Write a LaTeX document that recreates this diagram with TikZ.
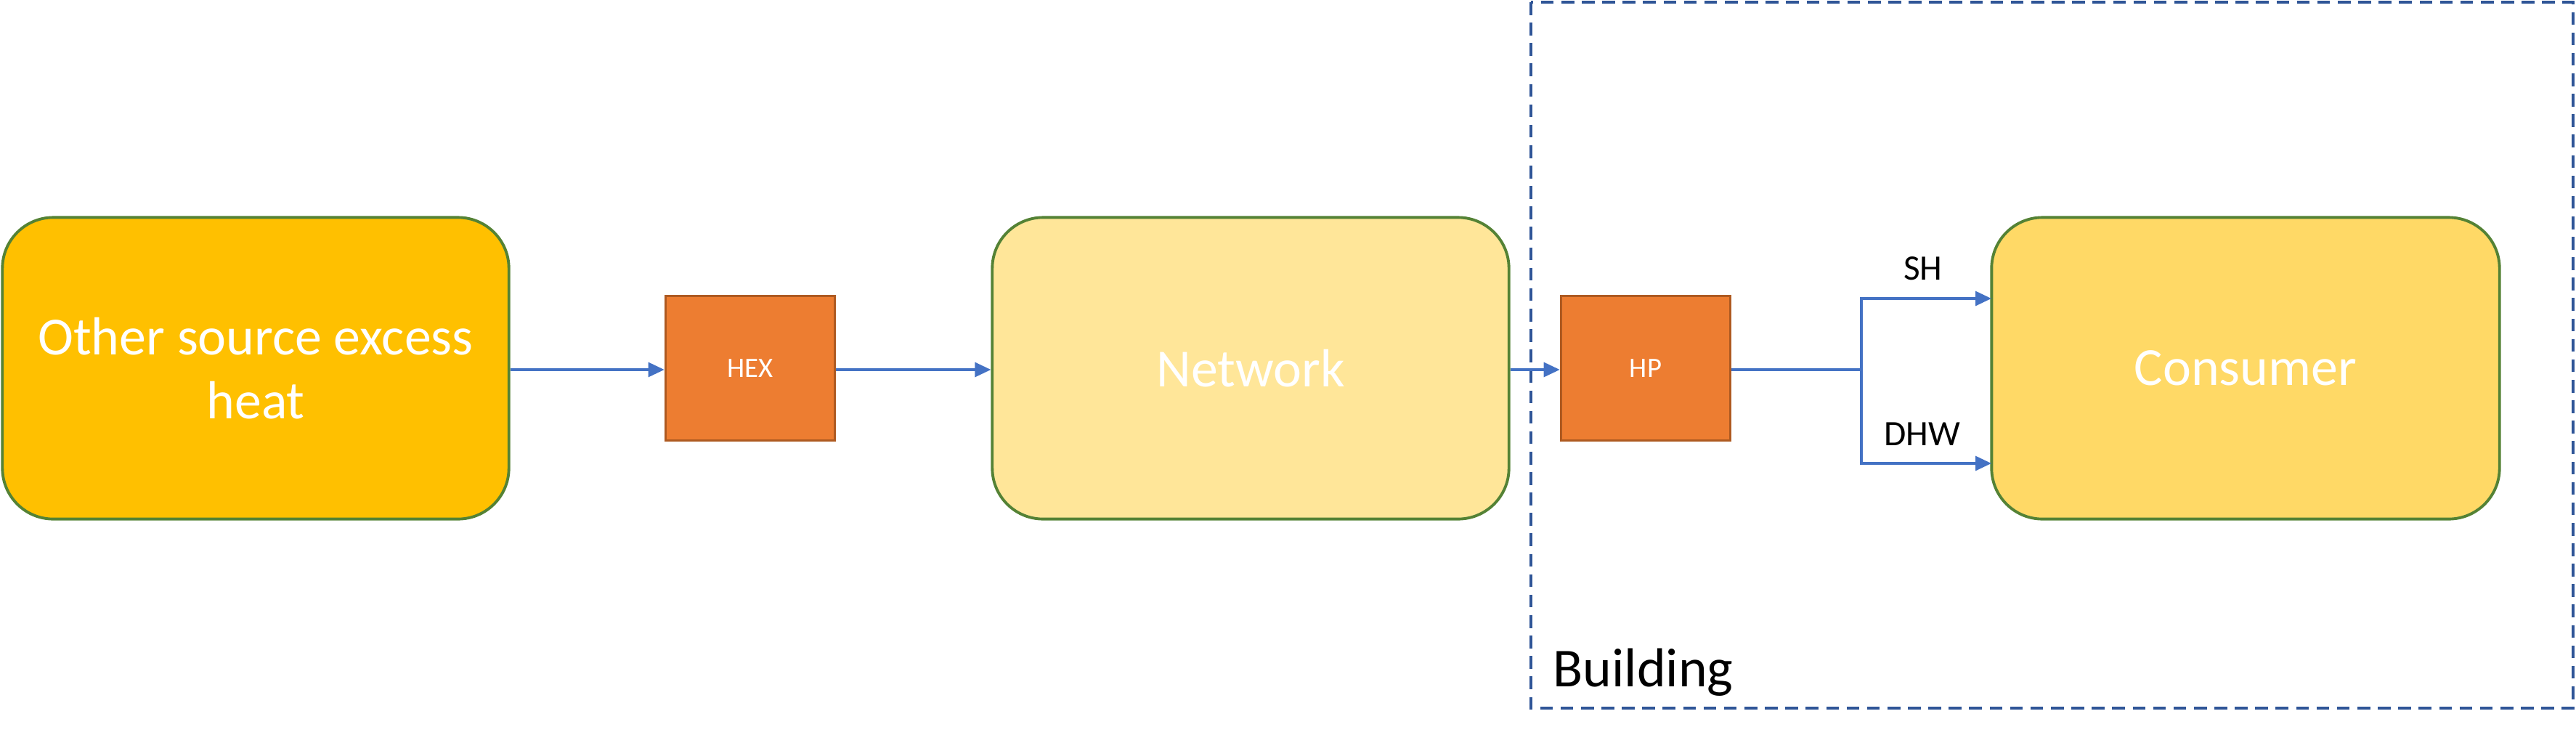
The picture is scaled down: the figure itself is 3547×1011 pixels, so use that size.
\documentclass[tikz,border=0pt]{standalone}
\usepackage{fontspec}
\setmainfont{Carlito}
\usetikzlibrary{arrows.meta,calc}
\definecolor{srcfill}{HTML}{FFC000}
\definecolor{netfill}{HTML}{FFE699}
\definecolor{consfill}{HTML}{FFD966}
\definecolor{boxgreen}{HTML}{548235}
\definecolor{orangefill}{HTML}{ED7D31}
\definecolor{orangedraw}{HTML}{AE5A21}
\definecolor{arrblue}{HTML}{4472C4}
\definecolor{dashblue}{HTML}{2F5597}
\tikzset{
  bigbox/.style={draw=boxgreen, line width=1.1pt, rounded corners=0.7cm, minimum width=6.97cm, minimum height=4.15cm, text=white, font=\fontsize{21}{25}\selectfont, align=center, inner sep=0pt},
  unitbox/.style={draw=orangedraw, fill=orangefill, line width=1pt, minimum width=2.33cm, minimum height=1.99cm, text=white, font=\fontsize{11}{13}\selectfont, inner sep=0pt},
  flow/.style={draw=arrblue, line width=0.9pt, -{Triangle[length=0.22cm, width=0.2cm]}},
  flowline/.style={draw=arrblue, line width=1.3pt},
  lbl/.style={font=\fontsize{14}{16}\selectfont, text=black, inner sep=0pt},
  bldg/.style={draw=dashblue, line width=1pt, dash pattern=on 5pt off 3pt}
}
\begin{document}
\begin{tikzpicture}[x=0.01cm, y=-0.01cm]
\useasboundingbox (0,0) rectangle (3547,1011);
\draw[bldg] (2108,3) rectangle (3543,975);
\node[bigbox, fill=srcfill] (src) at (352,507) {Other source excess\\heat};
\node[unitbox] (hex) at (1033,507) {HEX};
\node[bigbox, fill=netfill, minimum width=7.11cm] (net) at (1722,507) {Network};
\node[unitbox] (hp) at (2266,507) {HP};
\node[bigbox, fill=consfill, minimum width=6.99cm] (cons) at (3092,507) {Consumer};
\node[lbl, font=\fontsize{21.5}{25}\selectfont, anchor=base west] (bl) at (2138,945) {Building};
\coordinate (br) at (2563,509);
\coordinate (shend) at (2742,411);
\coordinate (dhwend) at (2742,638);
\draw[flow] (src.east |- 0,509) -- (hex.west |- 0,509);
\draw[flow] (hex.east |- 0,509) -- (net.west |- 0,509);
\draw[flow] (net.east |- 0,509) -- (hp.west |- 0,509);
\draw[flowline] (hp.east |- 0,509) -- (br);
\draw[flow] (br) |- (shend);
\draw[flow] (br) |- (dhwend);
\node[lbl, anchor=base] (sh) at (2648,385) {SH};
\node[lbl, anchor=base] (dhw) at (2647,613) {DHW};
\end{tikzpicture}
\end{document}
